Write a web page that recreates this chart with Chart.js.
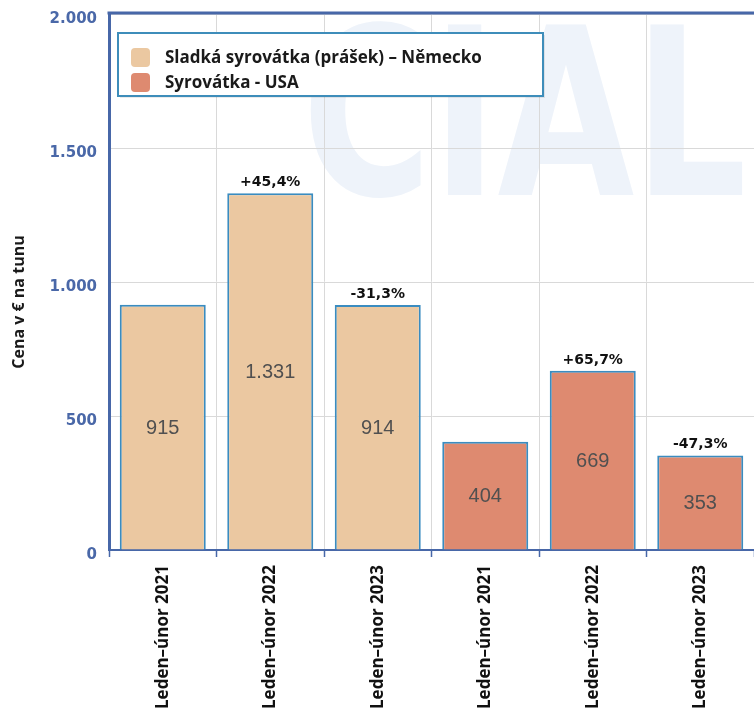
<!DOCTYPE html>
<html>
<head>
<meta charset="utf-8">
<script src="https://cdn.jsdelivr.net/npm/chart.js@4.4.1/dist/chart.umd.min.js"></script>
<style>
  html, body { margin: 0; padding: 0; background: #ffffff; }
  #wrap { width: 754px; height: 722px; }
</style>
</head>
<body>
<div id="wrap"><canvas id="c" width="754" height="722"></canvas></div>
<script>
// ---- data ----
const categories = ['Leden–únor 2021', 'Leden–únor 2022', 'Leden–únor 2023', 'Leden–únor 2021', 'Leden–únor 2022', 'Leden–únor 2023'];
const seriesNames = ['Sladká syrovátka (prášek) – Německo', 'Syrovátka - USA'];
const germanyValues = [915, 1331, 914, null, null, null];
const usaValues = [null, null, null, 404, 669, 353];
const changeLabels = ['', '+45,4%', '-31,3%', '', '+65,7%', '-47,3%'];
const yTickValues = [0, 500, 1000, 1500, 2000];
const yAxisTitle = 'Cena v € na tunu';
const watermarkText = 'CIAL';

const AXIS_BLUE = '#4767A8';
const BAR_BORDER = '#3A8CC0';

function fmt(n) {
  return String(n).replace(/\B(?=(\d{3})+(?!\d))/g, '.');
}

const decorPlugin = {
  id: 'decor',
  beforeDraw(chart) {
    const ctx = chart.ctx;
    ctx.save();
    ctx.fillStyle = '#EEF3FA';
    ctx.font = 'bold 233px "DejaVu Sans"';
    ctx.textBaseline = 'alphabetic';
    const w = ctx.measureText(watermarkText).width;
    const targetW = 445;
    ctx.translate(302, 195);
    ctx.scale(targetW / w, 1);
    ctx.fillText(watermarkText, 0, 0);
    ctx.restore();
  },
  afterDatasetsDraw(chart) {
    const ctx = chart.ctx;
    ctx.save();
    chart.data.datasets.forEach((ds, di) => {
      const meta = chart.getDatasetMeta(di);
      meta.data.forEach((el, i) => {
        const v = ds.data[i];
        if (v === null || v === undefined) return;
        const mid = (el.y + el.base) / 2;
        ctx.fillStyle = '#505050';
        ctx.font = '20px "Liberation Sans"';
        ctx.textAlign = 'center';
        ctx.textBaseline = 'middle';
        ctx.fillText(fmt(v), el.x, mid + 1);
        const lab = changeLabels[i];
        if (lab) {
          ctx.fillStyle = '#111111';
          ctx.font = 'bold 14px "DejaVu Sans"';
          ctx.textBaseline = 'alphabetic';
          ctx.fillText(lab, el.x, el.y - 7);
        }
      });
    });
    ctx.restore();
  },
  afterDraw(chart) {
    const ctx = chart.ctx;
    const ca = chart.chartArea;
    ctx.save();
    // top border
    ctx.strokeStyle = AXIS_BLUE;
    ctx.lineWidth = 3;
    ctx.beginPath();
    ctx.moveTo(ca.left - 1.5, ca.top - 1);
    ctx.lineTo(chart.width, ca.top - 1);
    ctx.stroke();

    // legend box
    const bx = 118, by = 33, bw = 425, bh = 63;
    ctx.fillStyle = 'rgba(0,0,0,0.08)';
    ctx.fillRect(bx + 2, by + 2, bw, bh);
    ctx.fillStyle = '#ffffff';
    ctx.fillRect(bx, by, bw, bh);
    ctx.strokeStyle = '#3E8DBA';
    ctx.lineWidth = 2;
    ctx.strokeRect(bx, by, bw, bh);
    chart.data.datasets.forEach((ds, di) => {
      const cy = by + 25 + di * 25;
      ctx.fillStyle = ds.backgroundColor;
      ctx.beginPath();
      if (ctx.roundRect) ctx.roundRect(131, cy - 10, 19, 19, 4); else ctx.rect(131, cy - 10, 19, 19);
      ctx.fill();
      ctx.fillStyle = '#1a1a1a';
      ctx.font = 'bold 17px "Open Sans"';
      ctx.textAlign = 'left';
      ctx.textBaseline = 'middle';
      ctx.fillText(ds.label, 165, cy);
    });

    // y axis title
    ctx.translate(19, 302);
    ctx.rotate(-Math.PI / 2);
    ctx.fillStyle = '#1a1a1a';
    ctx.font = 'bold 16px "Open Sans"';
    ctx.textAlign = 'center';
    ctx.textBaseline = 'middle';
    ctx.fillText(yAxisTitle, 0, 0);
    ctx.restore();
  }
};

new Chart(document.getElementById('c'), {
  type: 'bar',
  data: {
    labels: categories,
    datasets: [
      { label: seriesNames[0], data: germanyValues, backgroundColor: '#EBC8A1', borderColor: BAR_BORDER, borderWidth: 2, skipNull: true },
      { label: seriesNames[1], data: usaValues, backgroundColor: '#DE8A70', borderColor: BAR_BORDER, borderWidth: 2, skipNull: true }
    ]
  },
  options: {
    responsive: false,
    animation: false,
    devicePixelRatio: 1,
    layout: { padding: { top: 14, left: 0, right: 0, bottom: 0 } },
    datasets: { bar: { barPercentage: 0.8, categoryPercentage: 1.0 } },
    plugins: { legend: { display: false }, tooltip: { enabled: false } },
    scales: {
      x: {
        grid: { display: true, offset: true, color: '#D9D9D9', lineWidth: 1, drawTicks: true, tickLength: 7, tickColor: AXIS_BLUE, tickWidth: 1.5 },
        border: { display: true, color: AXIS_BLUE, width: 2 },
        ticks: {
          autoSkip: false, maxRotation: 90, minRotation: 90, padding: 8,
          color: '#111111', font: { family: '"Open Sans"', weight: 'bold', size: 17 }
        },
        afterFit(scale) { scale.height = 172; }
      },
      y: {
        min: 0, max: 2000,
        afterBuildTicks(scale) { scale.ticks = yTickValues.map(v => ({ value: v })); },
        grid: { color: '#D9D9D9', lineWidth: 1, drawTicks: false },
        border: { display: true, color: AXIS_BLUE, width: 3 },
        ticks: {
          padding: 12, labelOffset: 5, color: '#4A68A8',
          font: { family: '"DejaVu Sans"', weight: 'bold', size: 15 },
          callback: (v) => fmt(v)
        },
        afterFit(scale) { scale.width = 109; scale.paddingTop = 0; scale.paddingBottom = 0; }
      }
    }
  },
  plugins: [decorPlugin]
});
</script>
</body>
</html>
